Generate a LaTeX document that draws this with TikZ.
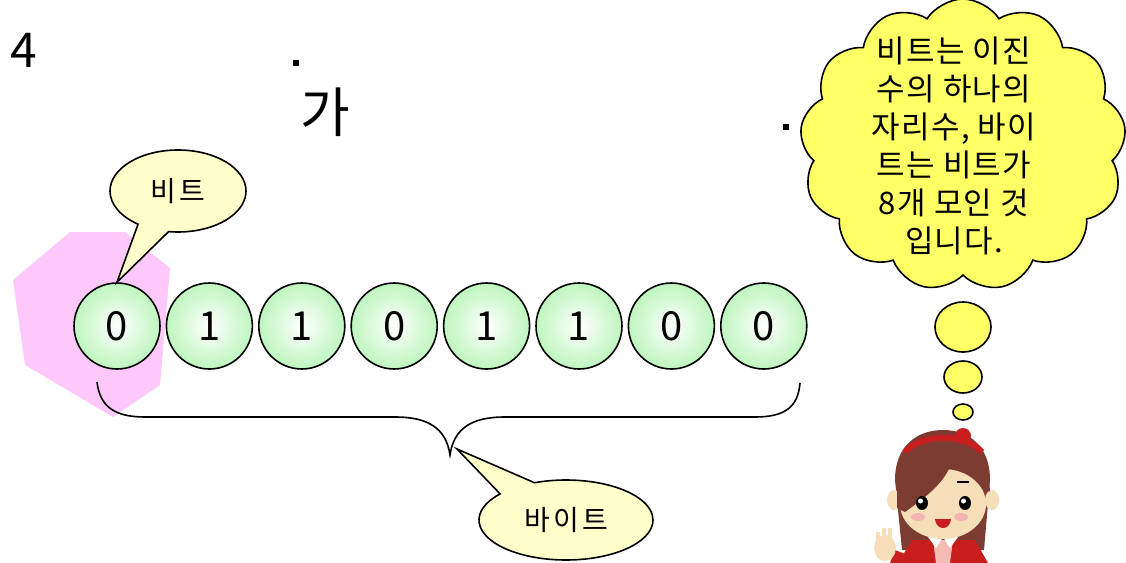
\documentclass[tikz,border=0pt]{standalone}
\usepackage{fontspec}
\setmainfont{Noto Sans CJK KR}
\usetikzlibrary{shapes.geometric, shapes.callouts, shapes.symbols}

\definecolor{bitgreen}{RGB}{190,245,190}
\definecolor{bubbleyellow}{RGB}{255,255,204}
\definecolor{cloudyellow}{RGB}{255,255,102}
\definecolor{blobpink}{RGB}{255,200,250}
\definecolor{hairbrown}{RGB}{125,60,50}
\definecolor{skin}{RGB}{246,222,184}
\definecolor{dressred}{RGB}{200,30,30}
\definecolor{cheekpink}{RGB}{245,180,180}

\begin{document}
\begin{tikzpicture}[x=.5pt, y=-.5pt, line width=.8pt,
    bit/.style={circle, draw, minimum size=43pt, inner sep=0pt, inner color=white, outer color=bitgreen, font=\fontsize{20}{20}\selectfont},
    bubble/.style={ellipse callout, draw, fill=bubbleyellow, inner sep=0pt, callout pointer arc=28, font=\fontsize{14}{14}\selectfont\addfontfeature{LetterSpace=12}},
    puff/.style={ellipse, draw, fill=cloudyellow, inner sep=0pt}]
    \useasboundingbox (0,0) rectangle (1126,563);

    % Titel und Punkte.
    \node (num) at (24,50) {\fontsize{24}{24}\selectfont 4};
    \node (ga) at (325,112) {\fontsize{27}{27}\selectfont 가};
    \fill (293,60) rectangle (299,66);
    \fill (783,124) rectangle (789,130);

    % Rosa Fleck hinter dem ersten Bit.
    \fill[blobpink] (13,280) -- (70,232) -- (125,232) -- (170,268) -- (160,385) -- (113,417) -- (25,365) -- cycle;

    % Bits.
    \foreach \b [count=\i] in {0,1,1,0,1,1,0,0}
    {
        \node[bit] (bit\i) at ({117+92.4*(\i-1)},326) {\b};
    }

    % Klammer unter dem Byte.
    \coordinate (brace left) at (97,382);
    \coordinate (brace tip) at (450,455);
    \coordinate (brace right) at (800,383);
    \draw (brace left) .. controls (100,407) and (115,417) .. (145,417) -- (395,417)
        .. controls (428,417) and (446,428) .. (brace tip)
        .. controls (454,428) and (472,417) .. (505,417) -- (755,417)
        .. controls (785,417) and (798,407) .. (brace right);
    \coordinate (byte tip) at (457,449);

    % Sprechblasen.
    \node[bubble, minimum width=68pt, minimum height=41pt, callout absolute pointer={(bit1.north)}] (bit label) at (178,191) {비트};
    \node[bubble, minimum width=87pt, minimum height=40pt, callout absolute pointer={(byte tip)}] (byte label) at (566,520) {바이트};

    % Gedankenwolke.
    \node[cloud, cloud puffs=13, cloud puff arc=115, cloud ignores aspect, draw, fill=cloudyellow, minimum width=163pt, minimum height=146pt] (thought) at (963,145) {};
    \node[align=center, font=\fontsize{15.5}{19}\selectfont\addfontfeature{LetterSpace=4}] (thought text) at (954,146)
        {비트는 이진\\수의 하나의\\자리수, 바이\\트는 비트가\\8개 모인 것\\입니다.};
    \node[puff, minimum width=28pt, minimum height=25pt] (puff1) at (963,327) {};
    \node[puff, minimum width=19pt, minimum height=16pt] (puff2) at (963,377) {};
    \node[puff, minimum width=10pt, minimum height=8pt] (puff3) at (963,412) {};

    % Maedchen.
    \fill[hairbrown] (902,550) -- (895,480) .. controls (895,445) and (918,430) .. (943,430)
        .. controls (968,430) and (990,445) .. (990,480) -- (984,550) -- cycle;
    \fill[dressred] (898,563) -- (912,540) -- (975,540) -- (988,563) -- cycle;
    \fill[cheekpink!80!skin] (933,540) -- (953,540) -- (950,563) -- (936,563) -- cycle;
    \fill[white] (928,537) -- (943,537) -- (936,548) -- cycle;
    \fill[white] (943,537) -- (958,537) -- (950,548) -- cycle;
    \fill[skin] (894,500) ellipse (7 and 10);
    \fill[skin] (992,500) ellipse (7 and 10);
    \fill[skin] (943,504) ellipse (43 and 35);
    \fill[hairbrown] (897,508) -- (897,472) .. controls (904,446) and (924,438) .. (945,438)
        .. controls (970,438) and (988,455) .. (990,492)
        .. controls (980,472) and (965,463) .. (952,461)
        .. controls (946,482) and (926,497) .. (905,512) -- cycle;
    \draw[dressred, line width=3pt] (905,452) .. controls (920,434) and (965,432) .. (982,452);
    \fill[dressred] (963,436) circle (8);
    \foreach \ex in {922,965}
    {
        \fill[black] (\ex,503) ellipse (6 and 7);
        \fill[white] (\ex-1.5,501) circle (2.5);
        \fill[cheekpink] (\ex-4,517) ellipse (7 and 4);
    }
    \draw[line width=1pt] (957,482) -- (969,482);
    \fill[dressred] (935,519) .. controls (936,531) and (950,531) .. (951,519) -- cycle;
    \fill[dressred] (890,563) -- (895,550) -- (910,556) -- (908,563) -- cycle;
    \fill[skin] (885,548) ellipse (11 and 13);
    \fill[skin] (876,532) rectangle (880,545);
    \fill[skin] (882,528) rectangle (886,542);
    \fill[skin] (888,528) rectangle (892,542);
\end{tikzpicture}
\end{document}
